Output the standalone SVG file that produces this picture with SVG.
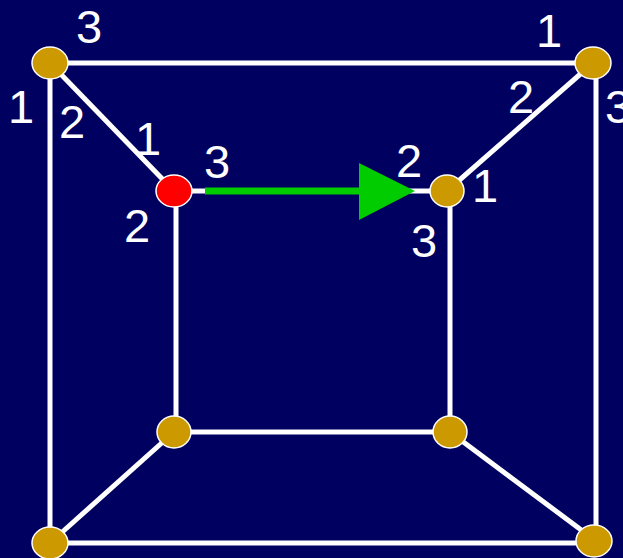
<svg xmlns="http://www.w3.org/2000/svg" width="623" height="558" viewBox="0 0 623 558">
<style>
.e{stroke:#ffffff;stroke-width:5;stroke-linecap:butt;fill:none}
.n{fill:#cc9900;stroke:#ffffff;stroke-width:1.5}
.r{fill:#ff0000;stroke:#ffffff;stroke-width:1.5}
.t{font-family:"Liberation Sans",Arial,sans-serif;font-size:47px;fill:#ffffff;text-anchor:middle}
</style>
<rect width="623" height="558" fill="#000060"/>
<g id="connectors">
<line class="e" x1="50" y1="63" x2="593" y2="63"/>
<line class="e" x1="50" y1="63" x2="50" y2="543"/>
<line class="e" x1="596" y1="63" x2="596" y2="541"/>
<line class="e" x1="50" y1="543" x2="596" y2="543"/>
<line class="e" x1="50" y1="63" x2="174" y2="191"/>
<line class="e" x1="593" y1="63" x2="447" y2="191"/>
<line class="e" x1="174" y1="432" x2="50" y2="543"/>
<line class="e" x1="450" y1="432" x2="596" y2="541"/>
<line class="e" x1="176" y1="191" x2="176" y2="432"/>
<line class="e" x1="450" y1="191" x2="450" y2="432"/>
<line class="e" x1="174" y1="432" x2="450" y2="432"/>
<line class="e" x1="174" y1="191" x2="447" y2="191"/>
<line x1="205" y1="191" x2="362" y2="191" stroke="#00cc00" stroke-width="7"/>
<polygon points="359,163 415,191 359,220" fill="#00cc00"/>
</g>
<g id="n-tl"><ellipse class="n" cx="50" cy="63" rx="18" ry="16"/></g>
<g id="n-tr"><ellipse class="n" cx="593" cy="63" rx="18" ry="16"/></g>
<g id="n-itl"><ellipse class="r" cx="174" cy="191" rx="18" ry="16"/></g>
<g id="n-itr"><ellipse class="n" cx="447" cy="191" rx="17" ry="16"/></g>
<g id="n-ibl"><ellipse class="n" cx="174" cy="432" rx="17" ry="16"/></g>
<g id="n-ibr"><ellipse class="n" cx="450" cy="432" rx="17" ry="16"/></g>
<g id="n-bl"><ellipse class="n" cx="50" cy="543" rx="18" ry="16"/></g>
<g id="n-br"><ellipse class="n" cx="594" cy="541" rx="18" ry="16"/></g>
<g id="labels">
<text class="t" x="89" y="43">3</text>
<text class="t" x="21" y="123">1</text>
<text class="t" x="72" y="138">2</text>
<text class="t" x="148" y="155">1</text>
<text class="t" x="217" y="178">3</text>
<text class="t" x="137" y="242">2</text>
<text class="t" x="549" y="47">1</text>
<text class="t" x="618" y="123">3</text>
<text class="t" x="521" y="113">2</text>
<text class="t" x="409" y="177">2</text>
<text class="t" x="485" y="202">1</text>
<text class="t" x="424" y="257">3</text>
</g>
</svg>
